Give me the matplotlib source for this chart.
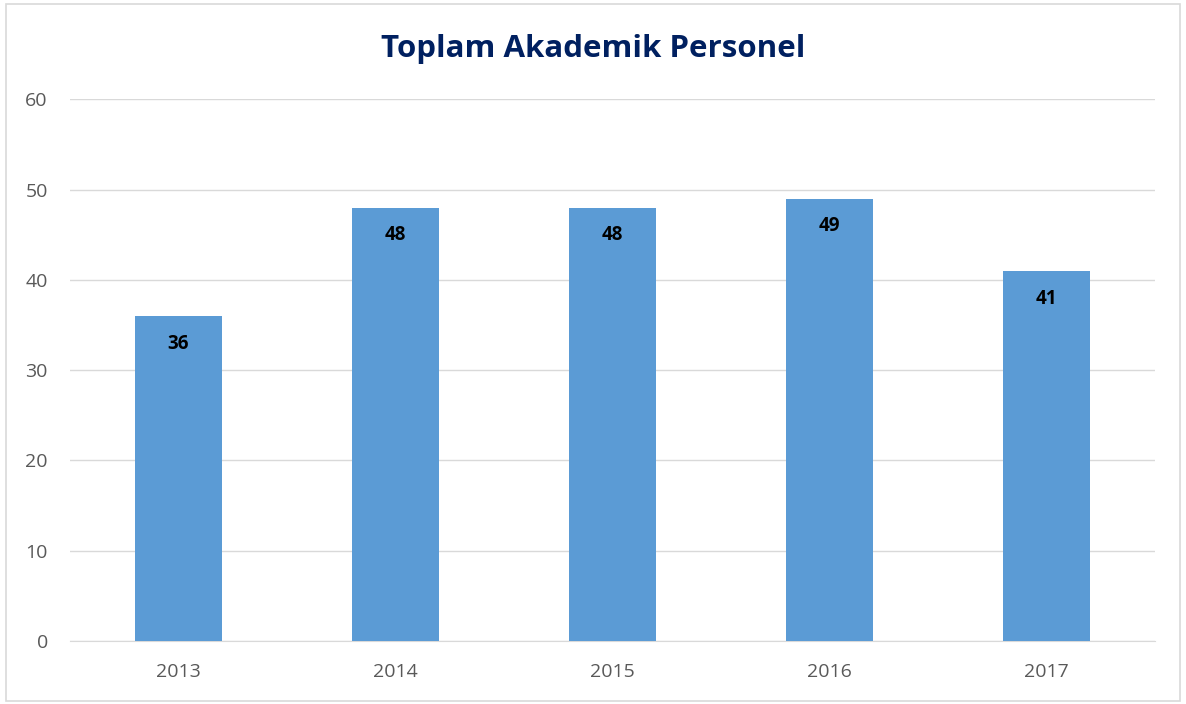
import matplotlib.pyplot as plt
from matplotlib.patches import Rectangle

plt.rcParams['font.family'] = ['Open Sans', 'DejaVu Sans']

years = ['2013', '2014', '2015', '2016', '2017']
personel = [36, 48, 48, 49, 41]
yticks = [0, 10, 20, 30, 40, 50, 60]

fig = plt.figure(figsize=(11.86, 7.04), dpi=100)
ax = fig.add_axes([0.059, 0.0895, 0.915, 0.7695])

x = range(len(years))
bars = ax.bar(x, personel, width=0.4, color='#5B9BD5', zorder=3)

# degerler cubuklarin icinde, ustte
for b, v in zip(bars, personel):
    ax.annotate(str(v), xy=(b.get_x() + b.get_width() / 2, v),
                xytext=(0, -20), textcoords='offset points',
                ha='center', va='center', fontsize=13.5, fontweight='bold', color='black')

ax.set_xlim(-0.5, len(years) - 0.5)
ax.set_ylim(0, 60)
ax.set_yticks(yticks)
ax.set_xticks(list(x))
ax.set_xticklabels(years)
ax.grid(axis='y', color='#D9D9D9', linewidth=1, zorder=0)
ax.tick_params(axis='both', length=0, labelsize=14, labelcolor='#595959')
ax.tick_params(axis='y', pad=16)
ax.tick_params(axis='x', pad=16)
for s in ['top', 'right', 'left']:
    ax.spines[s].set_visible(False)
ax.spines['bottom'].set_color('#D9D9D9')

fig.text(0.5, 0.93, 'Toplam Akademik Personel', ha='center', va='center',
         fontsize=22.5, fontweight='bold', color='#002060')

# cerceve
fig.patches.append(Rectangle((0.005, 0.004), 0.99, 0.99, transform=fig.transFigure,
                             fill=False, edgecolor='#D9D9D9', linewidth=1.2))

fig.savefig('out.png', dpi=100)
